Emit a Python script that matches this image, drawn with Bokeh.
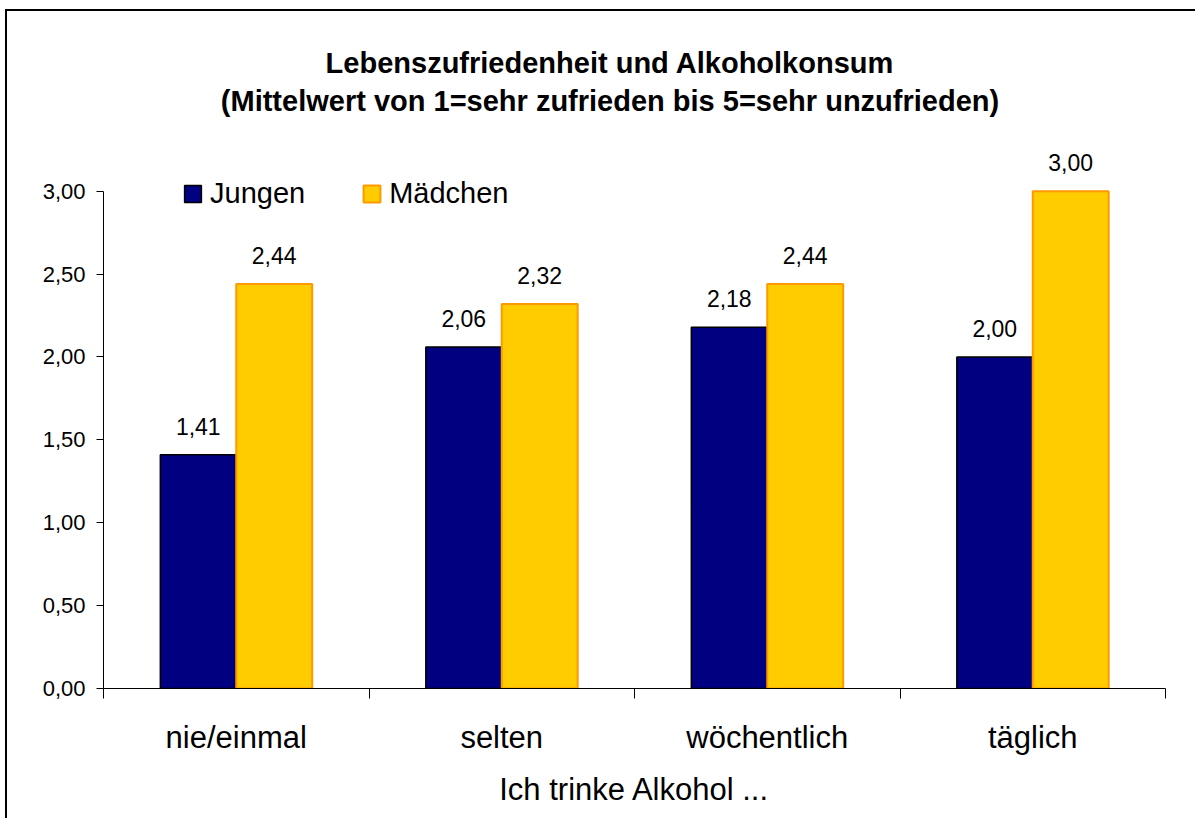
from bokeh.plotting import figure
from bokeh.models import (Range1d, FixedTicker, LinearAxis, Legend, LegendItem,
                          LabelSet, Label, ColumnDataSource)
from bokeh.core.properties import value
from bokeh.embed import file_html
from bokeh.resources import INLINE

# ---- data ----
categories = ["nie/einmal", "selten", "wöchentlich", "täglich"]
jungen = [1.41, 2.06, 2.18, 2.00]
maedchen = [2.44, 2.32, 2.44, 3.00]
yticks = [0.0, 0.5, 1.0, 1.5, 2.0, 2.5, 3.0]
ytick_labels = ["0,00", "0,50", "1,00", "1,50", "2,00", "2,50", "3,00"]
title_lines = ["Lebenszufriedenheit und Alkoholkonsum",
               "(Mittelwert von 1=sehr zufrieden bis 5=sehr unzufrieden)"]
x_label = "Ich trinke Alkohol ..."

FONT = "Liberation Sans"
NAVY = "#000080"
GOLD = "#FFCC00"
ORANGE = "#FF9900"

bw = 0.286
n = len(categories)
centers = [i + 0.5 for i in range(n)]

def fmt(v):
    return f"{v:.2f}".replace(".", ",")

src_j = ColumnDataSource(dict(x=[c - bw / 2 for c in centers], top=jungen,
                              lbl=[fmt(v) for v in jungen]))
src_m = ColumnDataSource(dict(x=[c + bw / 2 for c in centers], top=maedchen,
                              lbl=[fmt(v) for v in maedchen]))

# plot area reaches up to the title so that title/legend/labels are not clipped
FRAME_H = 668
Y_END = FRAME_H / (497.3 / 3.0)

p = figure(frame_width=1062, frame_height=FRAME_H,
           x_range=Range1d(0, n), y_range=Range1d(0, Y_END),
           output_backend="svg", toolbar_location=None,
           min_border_left=96, min_border_right=30,
           min_border_top=9, min_border_bottom=130,
           x_axis_location=None, y_axis_location=None)
p.styles = {"border-left": "2px solid #000", "border-top": "2px solid #000",
            "margin-left": "5px", "margin-top": "9px"}
p.outline_line_color = None
p.xgrid.visible = False
p.ygrid.visible = False
p.background_fill_color = "white"
p.border_fill_color = "white"

rj = p.vbar(x="x", top="top", bottom=0, width=bw, source=src_j,
            fill_color=NAVY, line_color="black", line_width=1.5)
rm = p.vbar(x="x", top="top", bottom=0, width=bw, source=src_m,
            fill_color=GOLD, line_color=ORANGE, line_width=2)

for s in (src_j, src_m):
    p.add_layout(LabelSet(x="x", y="top", text="lbl", source=s,
                          text_align="center", text_baseline="alphabetic",
                          y_offset=20, text_font=value(FONT),
                          text_font_size="23px", text_color="black"))

# y axis
yax = LinearAxis(ticker=FixedTicker(ticks=yticks), bounds=(0, 3),
                 major_label_overrides={v: l for v, l in zip(yticks, ytick_labels)})
yax.major_tick_out = 7
yax.major_tick_in = 0
yax.minor_tick_out = 0
yax.minor_tick_in = 0
yax.major_label_standoff = 11
yax.major_label_text_font = FONT
yax.major_label_text_font_size = "22px"
yax.major_label_text_color = "black"
yax.axis_line_color = "black"
yax.major_tick_line_color = "black"
p.add_layout(yax, "left")

# x axis
xax = LinearAxis(ticker=FixedTicker(ticks=centers, minor_ticks=list(range(n + 1))),
                 major_label_overrides={c: cat for c, cat in zip(centers, categories)})
xax.major_tick_out = 0
xax.major_tick_in = 0
xax.minor_tick_out = 10
xax.minor_tick_in = 0
xax.minor_tick_line_color = "black"
xax.axis_line_color = "black"
xax.major_label_standoff = 21
xax.major_label_text_font = FONT
xax.major_label_text_font_size = "31px"
xax.major_label_text_color = "black"
xax.axis_label = x_label
xax.axis_label_text_font = FONT
xax.axis_label_text_font_size = "31px"
xax.axis_label_text_font_style = "normal"
xax.axis_label_text_color = "black"
xax.axis_label_standoff = 14
p.add_layout(xax, "below")

legend = Legend(items=[LegendItem(label="Jungen", renderers=[rj]),
                       LegendItem(label="Mädchen", renderers=[rm])],
                orientation="horizontal", location=(79, 478),
                glyph_width=21, glyph_height=21, label_standoff=7, spacing=56,
                padding=0, margin=0, border_line_color=None,
                background_fill_alpha=0, label_text_font=FONT,
                label_text_font_size="29px", label_text_color="black")
p.add_layout(legend, "center")

# title: two centred bold lines (screen units, relative to the plot area)
for line, ty in zip(title_lines, (626, 588)):
    p.add_layout(Label(x=506.5, y=ty, x_units="screen", y_units="screen",
                       text=line, text_align="center", text_baseline="alphabetic",
                       text_font=FONT, text_font_size="29px",
                       text_font_style="bold", text_color="black"))

open("out.html", "w").write(file_html(p, INLINE))
